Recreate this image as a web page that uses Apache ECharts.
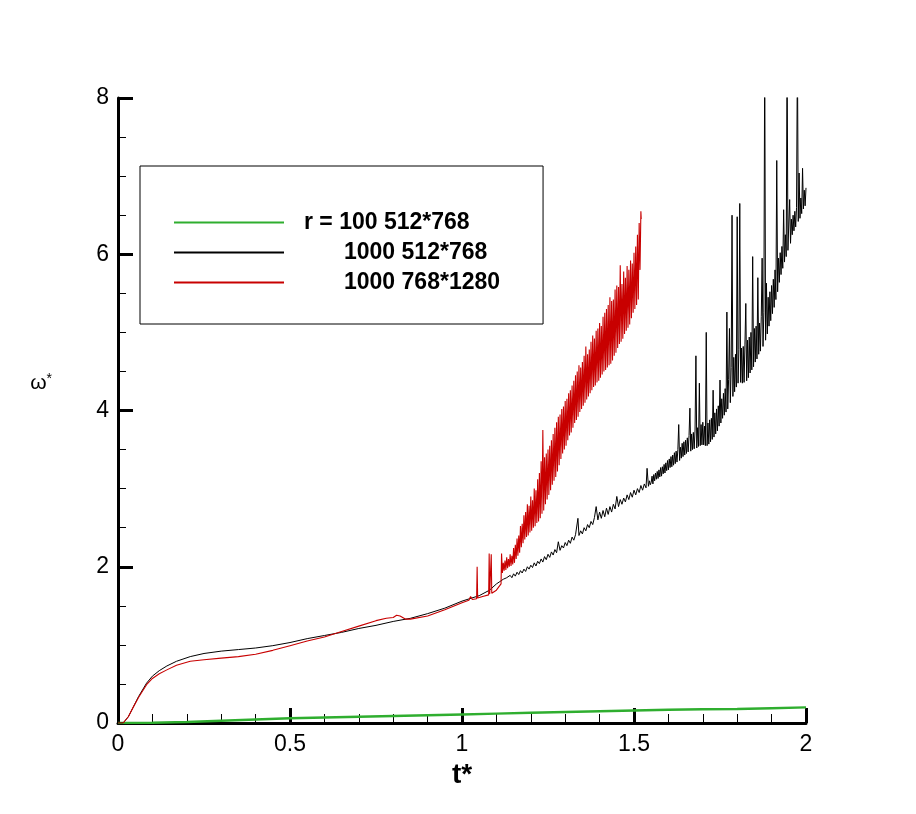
<!DOCTYPE html>
<html>
<head>
<meta charset="utf-8">
<script src="https://cdn.jsdelivr.net/npm/echarts@6/dist/echarts.min.js"></script>
<style>
  html, body { margin: 0; padding: 0; background: #fff; }
  #main { width: 916px; height: 814px; }
</style>
</head>
<body>
<div id="main"></div>
<script>
// legend names
var names = ['r = 100 512*768', '1000 512*768', '1000 768*1280']

// r = 100, 512*768  [t*, w*]
var greenPts = [
    [0, 0], [0.1, 0.004], [0.2, 0.012], [0.3, 0.03], [0.4, 0.045], [0.5, 0.06],
    [0.6, 0.07], [0.7, 0.08], [0.8, 0.09], [0.9, 0.1], [1.0, 0.11], [1.1, 0.12],
    [1.2, 0.13], [1.3, 0.14], [1.4, 0.15], [1.5, 0.16], [1.6, 0.17], [1.7, 0.175],
    [1.8, 0.18], [1.9, 0.19], [2.0, 0.2]
]

// r = 1000, 512*768
var blackPts = [
    [0, 0], [0.015, 0], [0.03, 0.08], [0.044, 0.2], [0.06, 0.34], [0.083, 0.51],
    [0.1, 0.6], [0.12, 0.67], [0.142, 0.73], [0.17, 0.79], [0.21, 0.85], [0.25, 0.89],
    [0.3, 0.92], [0.35, 0.94], [0.4, 0.96], [0.45, 0.99], [0.5, 1.03], [0.55, 1.08],
    [0.6, 1.12], [0.65, 1.16], [0.7, 1.21], [0.75, 1.25], [0.8, 1.3], [0.85, 1.34],
    [0.9, 1.4], [0.95, 1.47], [1.0, 1.56], [1.05, 1.63], [1.08, 1.7],
    [1.100, 1.78], [1.105, 1.76], [1.110, 1.81], [1.115, 1.79], [1.120, 1.84], [1.125, 1.82],
    [1.130, 1.86], [1.135, 1.84], [1.140, 1.89], [1.145, 1.86], [1.150, 1.91], [1.155, 1.88],
    [1.160, 1.93], [1.165, 1.90], [1.170, 1.95], [1.175, 1.92], [1.180, 1.97], [1.185, 1.94],
    [1.190, 2.00], [1.195, 1.97], [1.200, 2.02], [1.205, 1.99], [1.210, 2.05], [1.215, 2.01],
    [1.220, 2.07], [1.225, 2.04], [1.230, 2.10], [1.235, 2.06], [1.240, 2.13], [1.245, 2.09],
    [1.250, 2.16], [1.255, 2.12], [1.260, 2.19], [1.265, 2.15], [1.270, 2.22], [1.275, 2.18],
    [1.280, 2.32], [1.285, 2.21], [1.290, 2.27], [1.295, 2.24], [1.300, 2.31], [1.305, 2.27],
    [1.310, 2.34], [1.315, 2.30], [1.320, 2.38], [1.325, 2.34], [1.330, 2.41], [1.337, 2.62],
    [1.340, 2.40], [1.345, 2.46], [1.350, 2.42], [1.355, 2.50], [1.360, 2.46], [1.365, 2.54],
    [1.370, 2.50], [1.375, 2.58], [1.380, 2.54], [1.385, 2.63], [1.390, 2.77], [1.395, 2.60],
    [1.400, 2.70], [1.405, 2.62], [1.410, 2.72], [1.415, 2.64], [1.420, 2.75], [1.425, 2.67],
    [1.430, 2.77], [1.435, 2.70], [1.440, 2.80], [1.445, 2.74], [1.450, 2.90], [1.455, 2.77],
    [1.460, 2.86], [1.465, 2.80], [1.470, 2.88], [1.475, 2.83], [1.480, 2.92], [1.485, 2.86],
    [1.490, 2.95], [1.495, 2.89], [1.500, 2.98], [1.505, 2.92], [1.510, 3.00], [1.515, 2.95],
    [1.520, 3.04], [1.525, 2.98], [1.530, 3.06], [1.535, 3.01], [1.538, 3.26], [1.542, 3.03],
    [1.545, 3.10], [1.5475, 3.05],
    [1.5500, 3.08], [1.5525, 3.16], [1.5550, 3.06], [1.5575, 3.18], [1.5600, 3.10], [1.5625, 3.20],
    [1.5650, 3.12], [1.5675, 3.22], [1.5700, 3.13], [1.5725, 3.24], [1.5750, 3.15], [1.5775, 3.27],
    [1.5800, 3.16], [1.5825, 3.28], [1.5850, 3.19], [1.5875, 3.31], [1.5900, 3.20], [1.5925, 3.33],
    [1.5950, 3.23], [1.5975, 3.36], [1.6000, 3.24], [1.6025, 3.38], [1.6050, 3.27], [1.6075, 3.41],
    [1.6100, 3.28], [1.6125, 3.43], [1.6150, 3.30], [1.6175, 3.46], [1.6200, 3.32], [1.6225, 3.48],
    [1.6250, 3.34], [1.6275, 3.50], [1.6300, 3.82], [1.6325, 3.36], [1.6350, 3.53], [1.6375, 3.39],
    [1.6400, 3.58], [1.6425, 3.41], [1.6450, 3.60], [1.6475, 3.43], [1.6500, 3.62], [1.6525, 3.45],
    [1.6550, 3.65], [1.6575, 3.47], [1.6600, 3.68], [1.6625, 4.03], [1.6650, 3.48], [1.6675, 3.70],
    [1.6700, 3.50], [1.6725, 3.72], [1.6750, 3.51], [1.6775, 3.75], [1.6800, 4.70], [1.6825, 3.52],
    [1.6850, 3.78], [1.6875, 3.54], [1.6900, 4.35], [1.6925, 3.55], [1.6950, 3.82], [1.6975, 3.56],
    [1.7000, 3.85], [1.7025, 3.56], [1.7050, 3.80], [1.7075, 3.55], [1.7100, 5.00], [1.7125, 3.55],
    [1.7150, 3.84], [1.7175, 3.57], [1.7200, 3.88], [1.7225, 3.60], [1.7250, 3.90], [1.7275, 3.63],
    [1.7300, 4.26], [1.7325, 3.66], [1.7350, 3.97], [1.7375, 3.70], [1.7400, 4.02], [1.7425, 3.74],
    [1.7450, 4.06], [1.7475, 3.80], [1.7500, 4.39], [1.7525, 3.84], [1.7550, 4.15], [1.7575, 3.90],
    [1.7600, 4.22], [1.7625, 3.94], [1.7650, 4.28], [1.7675, 3.98], [1.7700, 5.26], [1.7725, 4.02],
    [1.7750, 4.40], [1.7775, 5.05], [1.7800, 4.10], [1.7825, 4.55], [1.7850, 6.50], [1.7875, 4.18],
    [1.7900, 4.68], [1.7925, 4.24], [1.7950, 4.72], [1.7975, 4.30], [1.8000, 6.48], [1.8025, 4.35],
    [1.8050, 4.78], [1.8075, 6.65], [1.8100, 4.36], [1.8125, 4.80], [1.8150, 4.35], [1.8175, 4.82],
    [1.8200, 4.36], [1.8225, 4.85], [1.8250, 5.37], [1.8275, 4.38], [1.8300, 4.90], [1.8325, 4.42],
    [1.8350, 4.94], [1.8375, 4.48], [1.8400, 5.00], [1.8425, 4.52], [1.8450, 5.97], [1.8475, 4.56],
    [1.8500, 5.05], [1.8525, 4.62], [1.8550, 5.08], [1.8575, 4.66], [1.8600, 5.70], [1.8625, 4.72],
    [1.8650, 5.12], [1.8675, 4.76], [1.8700, 5.20], [1.8725, 5.95], [1.8750, 4.82], [1.8775, 5.25],
    [1.8800, 8.60], [1.8825, 4.90], [1.8850, 5.63], [1.8875, 4.98], [1.8900, 5.45], [1.8925, 5.08],
    [1.8950, 5.52], [1.8975, 5.15], [1.9000, 5.60], [1.9025, 5.24], [1.9050, 5.68], [1.9075, 5.32],
    [1.9100, 5.80], [1.9125, 5.42], [1.9150, 7.20], [1.9175, 5.52], [1.9200, 5.95], [1.9225, 5.64],
    [1.9250, 6.02], [1.9275, 5.74], [1.9300, 6.10], [1.9325, 5.82], [1.9350, 6.57], [1.9375, 5.90],
    [1.9400, 6.25], [1.9425, 5.97], [1.9450, 8.60], [1.9475, 6.05], [1.9500, 6.40], [1.9525, 6.70],
    [1.9550, 6.14], [1.9575, 6.45], [1.9600, 6.25], [1.9625, 6.50], [1.9650, 6.30], [1.9675, 6.55],
    [1.9700, 6.35], [1.9725, 6.60], [1.9750, 8.60], [1.9775, 6.42], [1.9800, 7.04], [1.9825, 6.46],
    [1.9850, 6.72], [1.9875, 6.52], [1.9900, 7.10], [1.9925, 6.58], [1.9950, 6.82], [1.9975, 6.62],
    [2.0000, 6.85]
]

// r = 1000, 768*1280
var redPts = [
    [0, 0], [0.015, 0], [0.03, 0.08], [0.044, 0.2], [0.06, 0.33], [0.083, 0.49],
    [0.1, 0.57], [0.12, 0.63], [0.142, 0.68], [0.17, 0.74], [0.21, 0.79], [0.25, 0.81],
    [0.3, 0.83], [0.35, 0.85], [0.4, 0.88], [0.45, 0.93], [0.5, 0.99], [0.55, 1.05],
    [0.6, 1.1], [0.65, 1.17], [0.7, 1.24], [0.75, 1.31], [0.78, 1.34], [0.8, 1.35],
    [0.81, 1.38], [0.82, 1.37], [0.835, 1.33], [0.85, 1.33], [0.9, 1.37], [0.95, 1.45],
    [1.0, 1.54], [1.02, 1.57], [1.025, 1.62], [1.03, 1.58], [1.0425, 1.59], [1.044, 2.0],
    [1.0455, 1.6], [1.06, 1.62], [1.0775, 1.64], [1.079, 2.17], [1.0805, 1.65], [1.0835, 1.65],
    [1.085, 2.16], [1.0865, 1.66], [1.1, 1.7], [1.1135, 1.78],
    [1.1150, 2.17], [1.1175, 1.92], [1.1200, 2.05], [1.1225, 1.95], [1.1250, 2.08], [1.1275, 1.96],
    [1.1300, 2.12], [1.1325, 1.98], [1.1350, 2.10], [1.1375, 2.00], [1.1400, 2.16], [1.1425, 2.01],
    [1.1450, 2.14], [1.1475, 2.03], [1.1500, 2.24], [1.1525, 2.05], [1.1550, 2.28], [1.1575, 2.10],
    [1.1600, 2.36], [1.1625, 2.14], [1.1650, 2.40], [1.1675, 2.18], [1.1700, 2.52], [1.1725, 2.25],
    [1.1750, 2.55], [1.1775, 2.30], [1.1800, 2.66], [1.1825, 2.35], [1.1850, 2.70], [1.1875, 2.38],
    [1.1900, 2.80], [1.1925, 2.40], [1.1950, 2.78], [1.1975, 2.44], [1.2000, 2.90], [1.2025, 2.46],
    [1.2050, 2.85], [1.2075, 2.50], [1.2100, 3.00], [1.2125, 2.52], [1.2150, 2.98], [1.2175, 2.56],
    [1.2200, 3.12], [1.2225, 2.58], [1.2250, 3.20], [1.2275, 2.62], [1.2300, 3.35], [1.2325, 2.68],
    [1.2350, 3.75], [1.2375, 2.72], [1.2400, 3.40], [1.2425, 2.80], [1.2450, 3.45], [1.2475, 2.86],
    [1.2500, 3.50], [1.2525, 2.92], [1.2550, 3.55], [1.2575, 2.98], [1.2600, 3.62], [1.2625, 3.05],
    [1.2650, 3.70], [1.2675, 3.10], [1.2700, 3.78], [1.2725, 3.15], [1.2750, 3.85], [1.2775, 3.22],
    [1.2800, 3.92], [1.2825, 3.30], [1.2850, 3.95], [1.2875, 3.38], [1.2900, 4.02], [1.2925, 3.45],
    [1.2950, 4.05], [1.2975, 3.50], [1.3000, 4.12], [1.3025, 3.55], [1.3050, 4.15], [1.3075, 3.62],
    [1.3100, 4.22], [1.3125, 3.68], [1.3150, 4.26], [1.3175, 3.72], [1.3200, 4.32], [1.3225, 3.78],
    [1.3250, 4.38], [1.3275, 3.84], [1.3300, 4.45], [1.3325, 3.88], [1.3350, 4.50], [1.3375, 3.92],
    [1.3400, 4.58], [1.3425, 3.98], [1.3450, 4.55], [1.3475, 4.02], [1.3500, 4.62], [1.3525, 4.06],
    [1.3550, 4.70], [1.3575, 4.10], [1.3600, 4.82], [1.3625, 4.14], [1.3650, 4.72], [1.3675, 4.18],
    [1.3700, 4.78], [1.3725, 4.22], [1.3750, 4.88], [1.3775, 4.26], [1.3800, 4.96], [1.3825, 4.30],
    [1.3850, 4.92], [1.3875, 4.32], [1.3900, 5.02], [1.3925, 4.36], [1.3950, 5.05], [1.3975, 4.38],
    [1.4000, 5.12], [1.4025, 4.42], [1.4050, 5.08], [1.4075, 4.46], [1.4100, 5.20], [1.4125, 4.50],
    [1.4150, 5.25], [1.4175, 4.52], [1.4200, 5.30], [1.4225, 4.55], [1.4250, 5.35], [1.4275, 4.58],
    [1.4300, 5.45], [1.4325, 4.60], [1.4350, 5.40], [1.4375, 4.64], [1.4400, 5.42], [1.4425, 4.70],
    [1.4450, 5.55], [1.4475, 4.74], [1.4500, 5.60], [1.4525, 4.80], [1.4550, 5.58], [1.4575, 4.85],
    [1.4600, 5.86], [1.4625, 4.88], [1.4650, 5.62], [1.4675, 4.92], [1.4700, 5.78], [1.4725, 4.98],
    [1.4750, 5.70], [1.4775, 5.02], [1.4800, 5.85], [1.4825, 5.06], [1.4850, 5.80], [1.4875, 5.10],
    [1.4900, 5.92], [1.4925, 5.18], [1.4950, 5.88], [1.4975, 5.25], [1.5000, 6.02], [1.5025, 5.30],
    [1.5050, 6.10], [1.5075, 5.35], [1.5100, 6.25], [1.5125, 5.42], [1.5150, 6.40], [1.5175, 5.80],
    [1.5200, 6.55], [1.5210, 6.45]
]

var colors = ['#2fae2f', '#000000', '#c80000']

var myChart = echarts.init(document.getElementById('main'))

var axisFont = 'Liberation Sans, Arial, sans-serif'

var option = {
    animation: false,
    backgroundColor: '#fff',
    grid: {
        left: 118,
        right: 110,
        top: 98,
        bottom: 91,
        show: false
    },
    legend: {
        orient: 'vertical',
        left: 140,
        top: 166,
        padding: [45, 43, 30, 33],
        itemWidth: 110,
        itemHeight: 14,
        itemGap: 7,
        borderColor: '#000',
        borderWidth: 1,
        borderRadius: 0,
        selectedMode: false,
        itemStyle: {opacity: 0},
        textStyle: {
            fontFamily: axisFont,
            fontWeight: 'bold',
            fontSize: 23,
            color: '#000'
        },
        data: [
            {name: names[0], textStyle: {padding: [0, 0, 0, 15]}},
            {name: names[1], textStyle: {padding: [0, 0, 0, 55]}},
            {name: names[2], textStyle: {padding: [0, 0, 0, 55]}}
        ]
    },
    xAxis: {
        type: 'value',
        min: 0,
        max: 2,
        interval: 0.5,
        name: 't*',
        nameLocation: 'middle',
        nameGap: 35,
        nameTextStyle: {
            fontFamily: axisFont,
            fontWeight: 'bold',
            fontSize: 28,
            color: '#000'
        },
        axisLine: {lineStyle: {color: '#000', width: 3}},
        axisTick: {inside: true, length: 15, lineStyle: {color: '#000', width: 3}},
        minorTick: {show: true, splitNumber: 5, length: 9, lineStyle: {color: '#000', width: 1}},
        splitLine: {show: false},
        axisLabel: {
            margin: 10,
            fontFamily: axisFont,
            fontSize: 23,
            color: '#000'
        }
    },
    yAxis: {
        type: 'value',
        min: 0,
        max: 8,
        interval: 2,
        name: '{w|ω}{s|*}',
        nameLocation: 'middle',
        nameRotate: 0,
        nameGap: 66,
        nameTextStyle: {
            color: '#000',
            padding: [0, 0, 54, 0],
            rich: {
                w: {fontFamily: axisFont, fontSize: 21, color: '#000'},
                s: {fontFamily: axisFont, fontSize: 14, color: '#000', padding: [0, 0, 8, 0]}
            }
        },
        axisLine: {show: true, lineStyle: {color: '#000', width: 3}},
        axisTick: {show: true, inside: true, length: 15, lineStyle: {color: '#000', width: 3}},
        minorTick: {show: true, splitNumber: 4, length: 8, lineStyle: {color: '#000', width: 1}},
        splitLine: {show: false},
        axisLabel: {
            margin: 9,
            fontFamily: axisFont,
            fontSize: 23,
            color: '#000'
        }
    },
    series: [
        {
            name: names[0],
            type: 'line',
            data: greenPts,
            showSymbol: false,
            symbol: 'none',
            clip: true,
            lineStyle: {color: colors[0], width: 2.5},
            itemStyle: {color: colors[0]}
        },
        {
            name: names[1],
            type: 'line',
            data: blackPts,
            showSymbol: false,
            symbol: 'none',
            clip: true,
            lineStyle: {color: colors[1], width: 1},
            itemStyle: {color: colors[1]}
        },
        {
            name: names[2],
            type: 'line',
            data: redPts,
            showSymbol: false,
            symbol: 'none',
            clip: true,
            lineStyle: {color: colors[2], width: 1.1},
            itemStyle: {color: colors[2]}
        }
    ]
}

myChart.setOption(option)
</script>
</body>
</html>
